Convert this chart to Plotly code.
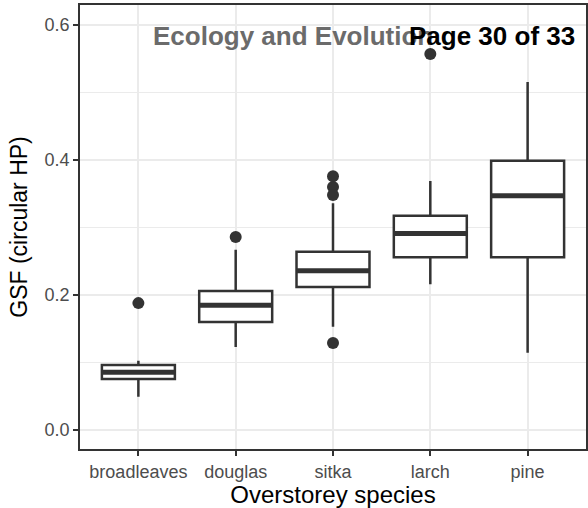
import plotly.graph_objects as go

categories = ["broadleaves", "douglas", "sitka", "larch", "pine"]
q1 = [0.0755, 0.160, 0.212, 0.256, 0.256]
median = [0.0855, 0.185, 0.236, 0.291, 0.347]
q3 = [0.0963, 0.206, 0.264, 0.3175, 0.399]
lower_whisker = [0.0493, 0.123, 0.153, 0.216, 0.1145]
upper_whisker = [0.1027, 0.267, 0.336, 0.369, 0.5156]
outlier_cat = [0, 1, 2, 2, 2, 2, 3]
outlier_val = [0.188, 0.286, 0.376, 0.360, 0.348, 0.129, 0.557]
y_ticks = [0.0, 0.2, 0.4, 0.6]

BOX_W = 0.75
DARK = "#333333"
FONT = "Liberation Sans, Arial, sans-serif"

fig = go.Figure()
for i, c in enumerate(categories):
    fig.add_trace(go.Box(
        x=[i], q1=[q1[i]], median=[median[i]], q3=[q3[i]],
        lowerfence=[lower_whisker[i]], upperfence=[upper_whisker[i]],
        width=BOX_W, whiskerwidth=0, boxpoints=False,
        fillcolor="white", line=dict(color=DARK, width=2.5),
        showlegend=False, hoverinfo="skip", name=c,
    ))

# thick median bars
mx, my = [], []
for i, m in enumerate(median):
    mx += [i - BOX_W / 2, i + BOX_W / 2, None]
    my += [m, m, None]
fig.add_trace(go.Scatter(x=mx, y=my, mode="lines",
                         line=dict(color=DARK, width=5),
                         showlegend=False, hoverinfo="skip"))

fig.add_trace(go.Scatter(x=outlier_cat, y=outlier_val, mode="markers",
                         marker=dict(color=DARK, size=12),
                         showlegend=False, hoverinfo="skip"))

fig.add_annotation(text="<b>Ecology and Evolution</b>", xref="paper", yref="paper",
                   x=0.141, y=0.931, xanchor="left", yanchor="middle",
                   showarrow=False, font=dict(family=FONT, size=26, color="#6b6b6b"))
fig.add_annotation(text="<b>Page 30 of 33</b>", xref="paper", yref="paper",
                   x=0.983, y=0.931, xanchor="right", yanchor="middle",
                   showarrow=False, font=dict(family=FONT, size=26, color="black"))

fig.update_layout(
    width=588, height=508,
    margin=dict(l=80, r=0, t=5, b=59),
    paper_bgcolor="white", plot_bgcolor="white",
    font=dict(family=FONT),
)
fig.update_xaxes(
    range=[-0.6, 4.6], tickmode="array",
    tickvals=list(range(len(categories))), ticktext=categories,
    showgrid=True, gridcolor="#EBEBEB", gridwidth=2,
    showline=True, mirror=True, linecolor=DARK, linewidth=1.8,
    ticks="outside", ticklen=5, tickwidth=2, tickcolor=DARK,
    tickfont=dict(size=18, color="#4D4D4D"),
    title=dict(text="Overstorey species", font=dict(size=24, color="black"), standoff=6),
    zeroline=False,
)
fig.update_yaxes(
    range=[-0.0281, 0.6296], tickmode="array", tickvals=y_ticks,
    ticktext=[f"{v:.1f}" for v in y_ticks],
    showgrid=True, gridcolor="#EBEBEB", gridwidth=2,
    minor=dict(tickvals=[0.1, 0.3, 0.5], showgrid=True, gridcolor="#EBEBEB", gridwidth=1, ticks=""),
    showline=True, mirror=True, linecolor=DARK, linewidth=1.8,
    ticks="outside", ticklen=5, tickwidth=2, tickcolor=DARK,
    tickfont=dict(size=18, color="#4D4D4D"),
    title=dict(text="GSF (circular HP)", font=dict(size=23, color="black"), standoff=10),
    zeroline=False,
)

fig.write_html("out.html")
